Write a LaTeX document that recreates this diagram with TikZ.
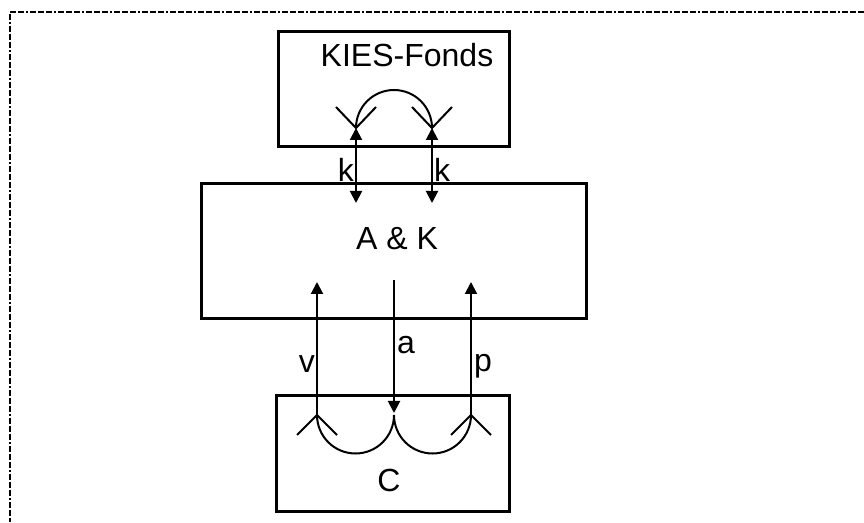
\documentclass[tikz,border=0pt]{standalone}
\usepackage{fontspec}
\setmainfont{Liberation Sans}
\usetikzlibrary{arrows.meta}
\tikzset{
  box/.style={draw, line width=3pt, minimum width=#1, inner sep=0pt},
  lbl/.style={inner sep=1pt, font=\fontsize{32}{36}\selectfont},
  arr/.style={-{Triangle[length=12pt,width=12pt]}, line width=2pt},
  dbl/.style={{Triangle[length=12pt,width=12pt]}-{Triangle[length=12pt,width=12pt]}, line width=2pt},
  fork/.style={line width=2pt},
  frame/.style={line width=2pt, dash pattern=on 6pt off 2pt on 6pt off 2pt on 6pt off 2pt on 2pt off 2pt},
}
\begin{document}
\begin{tikzpicture}[x=1pt, y=1pt]
\useasboundingbox (0,0) rectangle (864,522);
\draw[frame] (864,510) -- (10,510) -- (10,0);
% boxes
\node[box=231pt, minimum height=115pt] (kies) at (393.5,432.5) {};
\node[box=385pt, minimum height=135pt] (ak) at (393.5,270.5) {};
\node[box=233pt, minimum height=115pt] (cc) at (392.5,68.5) {};
\node[lbl] (kiestxt) at (407,467) {KIES-Fonds};
\node[lbl] (aktxt) at (397,283) {A \& K};
\node[lbl] (cctxt) at (389,42) {C};
% top
\coordinate (k1top) at (356,394); \coordinate (k1bot) at (356,319);
\coordinate (k2top) at (432,394); \coordinate (k2bot) at (432,319);
\draw[dbl] (k1top) -- (k1bot);
\draw[dbl] (k2top) -- (k2bot);
\draw[fork] (336,415) -- (k1top) -- (376,415);
\draw[fork] (412,415) -- (k2top) -- (452,415);
\draw[fork] (k1top) arc[start angle=180, end angle=0, radius=38pt];
\node[lbl, anchor=east] (k1) at (355,352) {k};
\node[lbl, anchor=west] (k2) at (433,352) {k};
% bottom
\coordinate (vbot) at (317,107); \coordinate (vtop) at (317,240);
\coordinate (abot) at (394,109); \coordinate (atop) at (394,242);
\coordinate (pbot) at (471,107); \coordinate (ptop) at (471,240);
\draw[arr] (vbot) -- (vtop);
\draw[arr] (atop) -- (abot);
\draw[arr] (pbot) -- (ptop);
\draw[fork] (297,87) -- (vbot) -- (337,87);
\draw[fork] (451,87) -- (pbot) -- (491,87);
\draw[fork] (vbot) arc[start angle=180, end angle=360, radius=38.5pt]
  arc[start angle=180, end angle=360, radius=38.5pt];
\node[lbl, anchor=east] (vl) at (316,158) {v};
\node[lbl, anchor=west] (al) at (396,177) {a};
\node[lbl, anchor=west] (pl) at (473,156) {p};
\end{tikzpicture}
\end{document}
